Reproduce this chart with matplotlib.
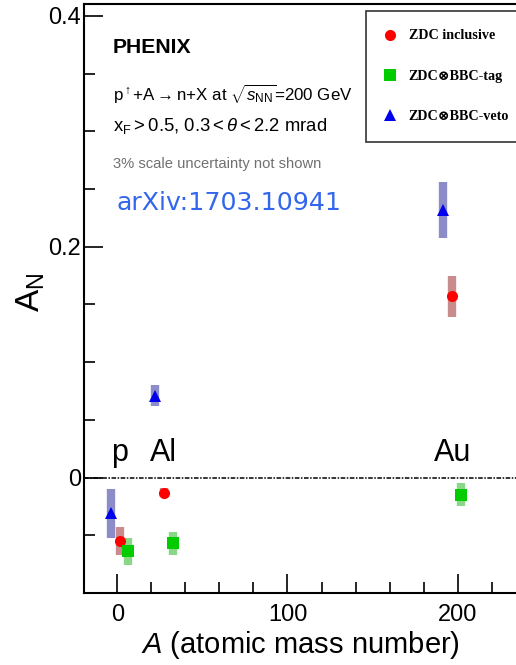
import matplotlib
matplotlib.use("Agg")
import matplotlib.pyplot as plt
from matplotlib.ticker import MultipleLocator

plt.rcParams['font.family'] = ['Liberation Sans', 'DejaVu Sans']
plt.rcParams['mathtext.fontset'] = 'custom'
plt.rcParams['mathtext.rm'] = 'Liberation Sans'
plt.rcParams['mathtext.it'] = 'Liberation Sans:italic'
plt.rcParams['mathtext.bf'] = 'Liberation Sans:bold'

# A_N vs nuclear mass number, three ZDC event classes
incl_A = [1.3, 27.4, 196.7]
incl_an = [-0.055, -0.013, 0.157]
incl_err = [0.012, 0.004, 0.018]

tag_A = [6.5, 32.6, 201.8]
tag_an = [-0.064, -0.057, -0.015]
tag_err = [0.012, 0.010, 0.010]

veto_A = [-3.5, 22.3, 191.4]
veto_an = [-0.031, 0.071, 0.232]
veto_err = [0.021, 0.009, 0.024]

nuclei = ["p", "Al", "Au"]
nuclei_A = [1, 27, 197]

fig = plt.figure(figsize=(5.16, 6.65), dpi=100)
ax = fig.add_axes([0.1628, 0.1083, 0.8372, 0.8857])

ax.axhline(0, color='black', lw=1.1, ls=(0, (3, 1, 1, 1)), zorder=1)

series = [
    (incl_A, incl_an, incl_err, 'o', '#ff0000', '#c98c8c', 'ZDC inclusive', 8),
    (tag_A, tag_an, tag_err, 's', '#00cc00', '#88d888', 'ZDC\u2297BBC-tag', 8),
    (veto_A, veto_an, veto_err, '^', '#0000ee', '#8c8cc8', 'ZDC\u2297BBC-veto', 8),
]
handles = []
for xs, ys, es, mk, col, ecol, lab, ms in series:
    ax.errorbar(xs, ys, yerr=es, fmt='none', ecolor=ecol, elinewidth=6, capsize=0, zorder=2)
    h, = ax.plot(xs, ys, ls='none', marker=mk, color=col, ms=ms, mew=0, label=lab, zorder=3)
    handles.append(h)

for name, a in zip(nuclei, nuclei_A):
    ax.text(a, 0.008, name, fontsize=22, ha='center', va='bottom')

ax.set_xlim(-19.6, 234.3)
ax.set_ylim(-0.1, 0.4104)
ax.xaxis.set_major_locator(MultipleLocator(100))
ax.xaxis.set_minor_locator(MultipleLocator(20))
ax.yaxis.set_major_locator(MultipleLocator(0.2))
ax.yaxis.set_minor_locator(MultipleLocator(0.05))
ax.yaxis.set_major_formatter(plt.FuncFormatter(lambda v, p: '0' if abs(v) < 1e-9 else f'{v:.1f}'))
ax.tick_params(which='both', direction='in', labelsize=17, width=1.2)
ax.tick_params(which='major', length=14)
ax.tick_params(which='minor', length=8)
ax.tick_params(axis='y', pad=2)
ax.tick_params(axis='x', pad=8)
ax.spines['right'].set_visible(False)
for s in ['left', 'bottom', 'top']:
    ax.spines[s].set_linewidth(1.5)

ax.set_xlabel(r'$\mathit{A}$ (atomic mass number)', fontsize=21, labelpad=2)
ax.set_ylabel(r'A$_{\rm N}$', fontsize=24)
ax.yaxis.set_label_coords(-0.085, 0.51)

ax.text(-2.5, 0.373, 'PHENIX', fontsize=15.2, fontweight='bold', va='center')
ax.text(-2.5, 0.332, r'p$^{\uparrow}$+A$\rightarrow$n+X at $\sqrt{s_{\rm NN}}$=200 GeV',
        fontsize=12.2, va='center')
ax.text(-2.5, 0.305, r'x$_{\rm F}$$>$0.5, 0.3$<\theta<$2.2 mrad', fontsize=13.3, va='center')
ax.text(-2.5, 0.272, '3% scale uncertainty not shown', fontsize=10.6, color='#707070', va='center')
ax.text(-0.5, 0.238, 'arXiv:1703.10941', fontsize=18.2, color='#3366ee', va='center',
        family=['DejaVu Sans'])

leg = ax.legend(handles=handles, loc='upper right', bbox_to_anchor=(1.043, 1.0),
                frameon=True, fancybox=False, edgecolor='black', borderpad=1.3,
                labelspacing=1.94, handlelength=0.8, handletextpad=0.9,
                prop={'family': ['Liberation Serif', 'DejaVu Serif'], 'weight': 'bold', 'size': 10.2})
leg.get_frame().set_linewidth(1.2)

fig.savefig('out.png', dpi=100)
